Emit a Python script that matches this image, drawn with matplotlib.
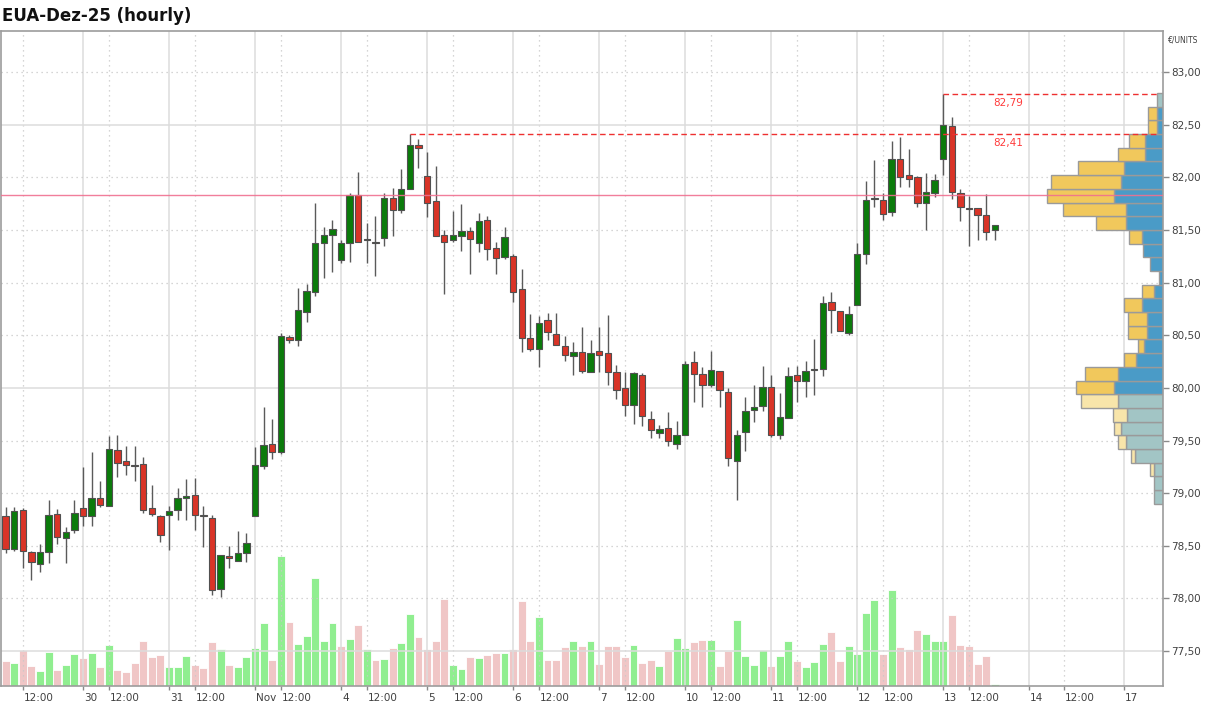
import matplotlib
matplotlib.use("Agg")
import matplotlib.pyplot as plt
from matplotlib.patches import Rectangle
from matplotlib.transforms import blended_transform_factory, ScaledTranslation

# --- DONNEES ---
# barres horaires 09:00-18:00, du 29.10 10:00 au 13.11 15:00 (index = numero de barre)
opens = [78.78, 78.47, 78.84, 78.44, 78.33, 78.44, 78.80, 78.57, 78.65, 78.86,
         78.78, 78.95, 78.88, 79.41, 79.31, 79.27, 79.28, 78.86, 78.78, 78.79,
         78.84, 78.95, 78.98, 78.79, 78.76, 78.09, 78.40, 78.36, 78.43, 78.78,
         79.26, 79.47, 79.39, 80.48, 80.45, 80.72, 80.91, 81.38, 81.45, 81.21,
         81.38, 81.83, 81.40, 81.39, 81.42, 81.80, 81.69, 81.89, 82.31, 82.01,
         81.77, 81.45, 81.40, 81.44, 81.49, 81.38, 81.59, 81.33, 81.24, 81.25,
         80.94, 80.47, 80.37, 80.64, 80.51, 80.40, 80.30, 80.34, 80.15, 80.35,
         80.33, 80.15, 80.00, 79.84, 80.12, 79.70, 79.57, 79.62, 79.47, 79.55,
         80.25, 80.13, 80.03, 80.16, 79.96, 79.31, 79.58, 79.79, 79.83, 80.01,
         79.55, 79.71, 80.12, 80.07, 80.17, 80.18, 80.82, 80.73, 80.52, 80.79,
         81.27, 81.79, 81.78, 81.67, 82.17, 82.02, 82.00, 81.76, 81.85, 82.17,
         82.49, 81.85, 81.71, 81.71, 81.64, 81.50]
highs = [78.87, 78.87, 78.86, 78.45, 78.52, 78.94, 78.85, 78.68, 78.94, 79.25,
         79.39, 79.12, 79.54, 79.55, 79.45, 79.45, 79.34, 79.08, 78.79, 78.88,
         79.05, 79.13, 79.14, 78.88, 78.79, 78.41, 78.50, 78.64, 78.62, 79.44,
         79.82, 79.70, 80.52, 80.50, 80.95, 80.99, 81.76, 81.53, 81.59, 81.40,
         81.85, 82.05, 81.57, 81.63, 81.85, 81.90, 82.08, 82.41, 82.36, 82.24,
         82.11, 81.50, 81.68, 81.75, 81.53, 81.66, 81.63, 81.39, 81.53, 81.27,
         81.13, 80.70, 80.68, 80.71, 80.71, 80.49, 80.44, 80.58, 80.45, 80.58,
         80.69, 80.22, 80.15, 80.15, 80.14, 79.78, 79.65, 79.77, 79.69, 80.26,
         80.35, 80.20, 80.35, 80.16, 80.00, 79.60, 79.91, 80.03, 80.21, 80.12,
         79.95, 80.20, 80.21, 80.26, 80.46, 80.87, 80.91, 80.73, 80.78, 81.38,
         81.96, 82.16, 81.85, 82.34, 82.38, 82.27, 82.01, 82.04, 82.03, 82.79,
         82.57, 81.89, 81.82, 81.71, 81.84, 81.55]
lows = [78.43, 78.45, 78.29, 78.18, 78.25, 78.34, 78.52, 78.34, 78.62, 78.69,
        78.69, 78.87, 78.88, 79.15, 79.17, 79.12, 78.81, 78.78, 78.54, 78.46,
        78.75, 78.75, 78.65, 78.49, 78.03, 78.01, 78.29, 78.36, 78.35, 78.78,
        79.23, 79.32, 79.37, 80.43, 80.40, 80.63, 80.87, 81.04, 81.10, 81.19,
        81.20, 81.39, 81.19, 81.06, 81.35, 81.44, 81.66, 81.89, 82.09, 81.62,
        81.44, 80.89, 81.39, 81.30, 81.08, 81.29, 81.21, 81.08, 81.22, 80.82,
        80.34, 80.35, 80.20, 80.45, 80.41, 80.26, 80.12, 80.14, 80.15, 80.15,
        80.03, 79.89, 79.73, 79.66, 79.64, 79.52, 79.52, 79.45, 79.42, 79.55,
        79.87, 79.82, 80.01, 79.82, 79.26, 78.94, 79.40, 79.68, 79.78, 79.53,
        79.51, 79.71, 79.87, 79.91, 79.93, 80.11, 80.52, 80.54, 80.50, 80.79,
        81.18, 81.72, 81.59, 81.63, 81.91, 81.91, 81.72, 81.50, 81.81, 82.02,
        81.79, 81.58, 81.35, 81.40, 81.40, 81.40]
closes = [78.47, 78.83, 78.45, 78.35, 78.44, 78.79, 78.58, 78.63, 78.81, 78.78,
          78.95, 78.89, 79.42, 79.29, 79.27, 79.26, 78.84, 78.80, 78.60, 78.83,
          78.95, 78.97, 78.79, 78.78, 78.08, 78.41, 78.38, 78.43, 78.53, 79.27,
          79.46, 79.39, 80.49, 80.45, 80.74, 80.92, 81.38, 81.45, 81.51, 81.38,
          81.83, 81.39, 81.41, 81.38, 81.80, 81.69, 81.89, 82.31, 82.28, 81.76,
          81.44, 81.39, 81.45, 81.49, 81.41, 81.58, 81.32, 81.23, 81.43, 80.91,
          80.47, 80.37, 80.62, 80.53, 80.41, 80.31, 80.34, 80.16, 80.33, 80.31,
          80.15, 79.98, 79.84, 80.14, 79.73, 79.60, 79.61, 79.50, 79.55, 80.23,
          80.13, 80.03, 80.17, 79.98, 79.33, 79.55, 79.78, 79.82, 80.01, 79.55,
          79.72, 80.11, 80.07, 80.16, 80.18, 80.81, 80.74, 80.54, 80.70, 81.27,
          81.78, 81.80, 81.65, 82.17, 82.00, 81.98, 81.76, 81.86, 81.97, 82.50,
          81.86, 81.72, 81.70, 81.64, 81.48, 81.55]
volumes = [25, 23, 36, 20, 15, 34, 16, 21, 32, 28, 33, 19, 41, 16, 14, 23, 45, 29, 31, 19,
           19, 30, 21, 18, 44, 37, 21, 19, 29, 38, 63, 26, 130, 64, 42, 50, 108, 45, 63, 40,
           47, 61, 37, 26, 27, 38, 43, 72, 49, 37, 45, 87, 21, 17, 29, 28, 31, 33, 33, 37,
           85, 45, 69, 26, 26, 39, 45, 40, 45, 22, 40, 40, 29, 41, 23, 26, 20, 35, 48, 38,
           44, 46, 46, 20, 35, 66, 30, 21, 36, 20, 30, 45, 25, 19, 24, 42, 54, 25, 40, 32,
           73, 86, 32, 96, 39, 37, 56, 52, 45, 45, 71, 41, 40, 22, 30, 2]

# axe des temps (index de barre)
day_ticks = [9, 19, 29, 39, 49, 59, 69, 79, 89, 99, 109, 119, 130]
day_labels = ["30", "31", "Nov", "4", "5", "6", "7", "10", "11", "12", "13", "14", "17"]
noon_ticks = [2, 12, 22, 32, 42, 52, 62, 72, 82, 92, 102, 112, 123]

# profil de volume (de 78,90 a 82,80 par pas de 0,13)
prof_low = 78.90
prof_step = 0.13
prof_blue = [27, 27, 27, 84, 111, 127, 109, 136, 147, 136, 82, 57, 49, 49, 63,
             28, 13, 40, 60, 63, 112, 110, 147, 127, 117, 54, 54, 18, 18, 18]
prof_yellow = [0, 0, 12, 12, 24, 20, 41, 110, 114, 98, 35, 18, 56, 56, 54,
               35, 0, 0, 0, 39, 89, 190, 201, 209, 137, 81, 48, 26, 26, 0]
value_area = (79.94, 82.67)

last_ref = 81.83
high_marks = [(47, 82.41), (109, 82.79)]

# --- COULEURS ---
C_UP = '#0b7b0b'
C_DN = '#d93427'
C_VUP = '#90ee90'
C_VDN = '#f0c6c6'
C_GRID = '#dcdcdc'
C_TXT = '#404040'

fig = plt.figure(figsize=(12.06, 7.05), dpi=100)
ax = fig.add_axes([0.0005, 0.02695, 0.96384, 0.92908])
ax_vol = ax.twinx()
ax.set_zorder(ax_vol.get_zorder() + 1)
ax.patch.set_visible(False)

n = len(closes)
xs = list(range(n))
ax.set_xlim(-0.58, 134.55)
ax.set_ylim(77.169, 83.389)

# grille : lignes pleines (jours, 2,50) et pointillees (12:00, 0,50)
for k in day_ticks:
    ax.axvline(k, color=C_GRID, lw=1.1, zorder=0)
for k in noon_ticks:
    ax.axvline(k, color='#c8c8c8', lw=0.9, ls=(0, (1, 3)), zorder=0)
for i in range(13):
    p = 77.5 + 0.5 * i
    if abs((p - 77.5) % 2.5) < 1e-6:
        ax.axhline(p, color=C_GRID, lw=1.1, zorder=0)
    else:
        ax.axhline(p, color='#c8c8c8', lw=0.9, ls=(0, (1, 3)), zorder=0)

# volumes (couleur selon cloture precedente)
vcols = []
for i in range(n):
    ref = opens[0] if i == 0 else closes[i - 1]
    vcols.append(C_VUP if closes[i] >= ref else C_VDN)
ax_vol.bar(xs, volumes, width=0.92, color=vcols, edgecolor='white', linewidth=0.6, zorder=1)
ax_vol.set_ylim(0, max(volumes) * 5.04)
ax_vol.set_yticks([])
for s in ax_vol.spines.values():
    s.set_visible(False)

# profil de volume a droite
tr = blended_transform_factory(ax.transAxes, ax.transData)
span = max(b + y for b, y in zip(prof_blue, prof_yellow)) / 0.0998
for j in range(len(prof_blue)):
    y0 = prof_low + j * prof_step
    inside = value_area[0] - 0.01 <= y0 and y0 + prof_step <= value_area[1] + 0.01
    cb = '#4a9bc7' if inside else '#a2c5c5'
    cy = '#f1c85c' if inside else '#f8e5aa'
    b = prof_blue[j] / span
    yl = prof_yellow[j] / span
    ax.add_patch(Rectangle((1 - b, y0), b, prof_step, transform=tr, facecolor=cb,
                           edgecolor='#9a9a9a', lw=1.0, zorder=2))
    if yl > 0:
        ax.add_patch(Rectangle((1 - b - yl, y0), yl, prof_step, transform=tr, facecolor=cy,
                               edgecolor='#9a9a9a', lw=1.0, zorder=2))

# bougies
for i in range(n):
    o, h, l, c = opens[i], highs[i], lows[i], closes[i]
    ax.vlines(i, l, h, color='#5a5a5a', lw=1.0, zorder=3)
    col = C_UP if c >= o else C_DN
    bot = min(o, c)
    hgt = max(abs(c - o), 0.008)
    ax.add_patch(Rectangle((i - 0.37, bot), 0.74, hgt, facecolor=col,
                           edgecolor='#505050', lw=0.8, zorder=4))

# derniere reference (ligne rose)
ax.axhline(last_ref, color='#f07090', lw=1.0, alpha=0.9, zorder=5)

# plus hauts marques
for k, p in high_marks:
    ax.hlines(p, k, 133.8, colors='#ee3030', lw=1.0, ls=(0, (4, 2.5)), zorder=5)
    ax.annotate(f"{p:.2f}".replace('.', ','), xy=(116.5, p), xytext=(0, -2.5),
                textcoords='offset points', ha='center', va='top', fontsize=7.5,
                color='#ff3b3b', zorder=6)

# axes
ax.yaxis.tick_right()
yt = [77.5 + 0.5 * i for i in range(12)]
ax.set_yticks(yt)
ax.set_yticklabels([f"{v:.2f}".replace('.', ',') for v in yt])
ax.tick_params(axis='y', length=4, width=1, color='#8a8a8a', pad=2,
               labelsize=7.5, labelcolor=C_TXT)

ax.set_xticks(day_ticks + noon_ticks)
ax.set_xticklabels(day_labels + ["12:00"] * len(noon_ticks))
ax.tick_params(axis='x', length=3, width=1, color='#8a8a8a', pad=2,
               labelsize=7.5, labelcolor=C_TXT)
off = ScaledTranslation(1 / 100, 0, fig.dpi_scale_trans)
for lab in ax.get_xticklabels():
    lab.set_ha('left')
    lab.set_transform(lab.get_transform() + off)

for s in ax.spines.values():
    s.set_color('#9c9c9c')
    s.set_linewidth(1.2)

fig.text(0.002, 1 - 16 / 705, "EUA-Dez-25 (hourly)", fontsize=12, fontweight='bold',
         color='#111111', va='center', ha='left')
fig.text(1168 / 1206, 1 - 40 / 705, "€/UNITS", fontsize=5.5, color=C_TXT,
         va='center', ha='left')

fig.savefig("out.png", dpi=100, facecolor='white')
